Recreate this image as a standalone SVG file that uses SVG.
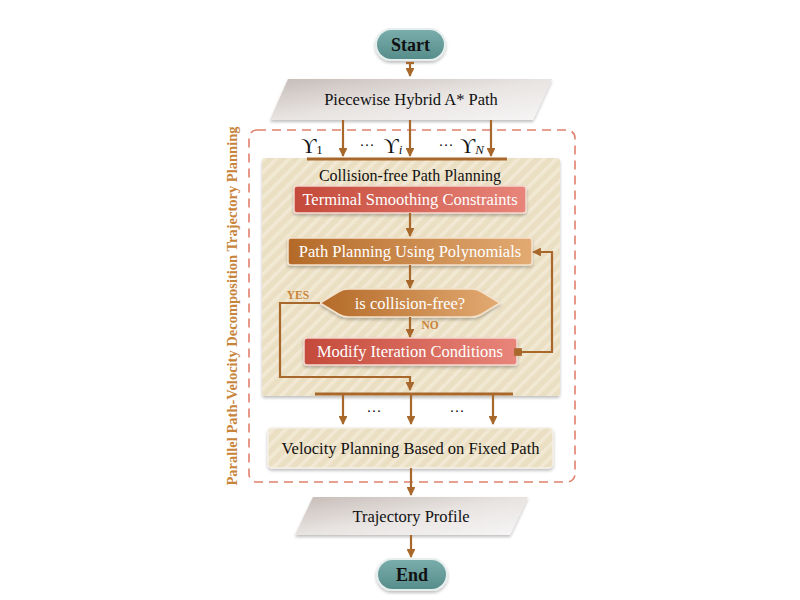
<svg xmlns="http://www.w3.org/2000/svg" width="800" height="600" viewBox="0 0 800 600">
<defs>
<style>
.t{font-family:"Liberation Serif","Times New Roman",serif;text-anchor:middle;dominant-baseline:central}
.w{fill:#ffffff}
.k{fill:#111111}
.ln{stroke:#a8682c;stroke-width:2.2;fill:none}
.bar{stroke:#a8682c;stroke-width:3.2;fill:none}
.lab{font-family:"Liberation Serif","Times New Roman",serif;font-weight:bold;fill:#c8843a}
</style>
<pattern id="stripes" width="9" height="9" patternUnits="userSpaceOnUse" patternTransform="rotate(-45)">
<rect width="9" height="9" fill="#ebdfc3"/>
<rect width="9" height="3.5" fill="#f2e9d5"/>
</pattern>
<linearGradient id="teal" x1="0" y1="0" x2="0" y2="1">
<stop offset="0" stop-color="#7aaeac"/><stop offset="1" stop-color="#558c8a"/>
</linearGradient>
<linearGradient id="gray" x1="0" y1="0" x2="1" y2="1">
<stop offset="0" stop-color="#c6bcb7"/><stop offset="0.5" stop-color="#e8e4e2"/><stop offset="1" stop-color="#f7f6f6"/>
</linearGradient>
<linearGradient id="red" x1="0" y1="0" x2="1" y2="0">
<stop offset="0" stop-color="#c44a3a"/><stop offset="1" stop-color="#e8857a"/>
</linearGradient>
<linearGradient id="brown" x1="0" y1="0" x2="1" y2="0">
<stop offset="0" stop-color="#b46a28"/><stop offset="1" stop-color="#e2aa72"/>
</linearGradient>
<filter id="sh" x="-10%" y="-20%" width="120%" height="150%">
<feDropShadow dx="0" dy="2" stdDeviation="1.8" flood-color="#000" flood-opacity="0.25"/>
</filter>
<marker id="ah" viewBox="0 0 10 10" refX="9" refY="5" markerWidth="4" markerHeight="4" orient="auto" markerUnits="strokeWidth">
<path d="M0,0 L10,5 L0,10 z" fill="#a8682c"/>
</marker>
<marker id="sq" viewBox="0 0 10 10" refX="5" refY="5" markerWidth="3.5" markerHeight="3.5" orient="auto" markerUnits="strokeWidth">
<rect width="10" height="10" fill="#a8682c"/>
</marker>
</defs>
<rect width="800" height="600" fill="#ffffff"/>

<g id="group-parallel">
<rect x="249" y="130" width="326" height="352" rx="8" fill="none" stroke="#e0806c" stroke-width="1.6" stroke-dasharray="9,6"/>
<text class="lab" font-size="14.5" transform="translate(232,306) rotate(-90)" text-anchor="middle" dominant-baseline="central">Parallel Path-Velocity Decomposition Trajectory Planning</text>
</g>

<g id="group-collision">
<rect x="262" y="158" width="298" height="238" rx="3" fill="url(#stripes)" filter="url(#sh)"/>
<text class="t k" x="410" y="175" font-size="16">Collision-free Path Planning</text>
</g>

<g id="start">
<rect x="376" y="29" width="69" height="31" rx="15.5" fill="url(#teal)" stroke="#e6eeee" stroke-width="2" filter="url(#sh)"/>
<text class="t k" x="410.5" y="44.5" font-size="18" font-weight="bold">Start</text>
</g>

<g id="hybrid">
<polygon points="288,79 552,79 533,120 270,120" fill="url(#gray)" filter="url(#sh)"/>
<text class="t k" x="411" y="99.5" font-size="16.5">Piecewise Hybrid A* Path</text>
</g>

<g id="terminal">
<rect x="294" y="186" width="232" height="27" rx="3" fill="url(#red)" stroke="#f3d8d0" stroke-width="1.5" filter="url(#sh)"/>
<text class="t w" x="410" y="199.5" font-size="16.5">Terminal Smoothing Constraints</text>
</g>

<g id="polynomials">
<rect x="288" y="238" width="244" height="27" rx="3" fill="url(#brown)" stroke="#f3e2cc" stroke-width="1.5" filter="url(#sh)"/>
<text class="t w" x="410" y="251.5" font-size="16.5">Path Planning Using Polynomials</text>
</g>

<g id="decision">
<path d="M320,303 L339,291.5 Q343,289 349,289 L471,289 Q477,289 481,291.5 L500,303 L481,314.5 Q477,317 471,317 L349,317 Q343,317 339,314.5 Z" fill="url(#brown)" stroke="#f3e2cc" stroke-width="1.5" filter="url(#sh)"/>
<text class="t w" x="410" y="303" font-size="16.5">is collision-free?</text>
</g>

<g id="modify">
<rect x="304" y="338" width="213" height="27" rx="3" fill="url(#red)" stroke="#f3d8d0" stroke-width="1.5" filter="url(#sh)"/>
<text class="t w" x="410" y="351.5" font-size="16.5">Modify Iteration Conditions</text>
</g>

<g id="velocity">
<rect x="268" y="428" width="285" height="40" rx="4" fill="url(#stripes)" stroke="#f4efe6" stroke-width="1.5" filter="url(#sh)"/>
<text class="t k" x="410.5" y="448" font-size="16.5">Velocity Planning Based on Fixed Path</text>
</g>

<g id="profile">
<polygon points="313,497 528,497 510,535 295,535" fill="url(#gray)" filter="url(#sh)"/>
<text class="t k" x="411" y="516" font-size="16.5">Trajectory Profile</text>
</g>

<g id="end">
<rect x="377" y="559" width="70" height="31" rx="15.5" fill="url(#teal)" stroke="#e6eeee" stroke-width="2" filter="url(#sh)"/>
<text class="t k" x="412" y="574.5" font-size="18" font-weight="bold">End</text>
</g>

<g id="connectors">
<line class="ln" x1="410" y1="63" x2="410" y2="76" marker-end="url(#ah)"/>
<line class="ln" x1="406" y1="63" x2="414" y2="63"/>
<line class="ln" x1="343" y1="120" x2="343" y2="156" marker-end="url(#ah)"/>
<line class="ln" x1="410" y1="120" x2="410" y2="156" marker-end="url(#ah)"/>
<line class="ln" x1="491" y1="120" x2="491" y2="156" marker-end="url(#ah)"/>
<line class="bar" x1="307" y1="159" x2="507" y2="159"/>
<line class="ln" x1="410" y1="213" x2="410" y2="236" marker-end="url(#ah)"/>
<line class="ln" x1="410" y1="265" x2="410" y2="288" marker-end="url(#ah)"/>
<line class="ln" x1="410" y1="317" x2="410" y2="337" marker-end="url(#ah)"/>
<polyline class="ln" points="320,303 280,303 280,377 410,377 410,390" marker-end="url(#ah)"/>
<polyline class="ln" points="518,352 552,352 552,252 533,252" marker-start="url(#sq)" marker-end="url(#ah)"/>
<line class="bar" x1="315" y1="394" x2="513" y2="394"/>
<line class="ln" x1="343" y1="395" x2="343" y2="424" marker-end="url(#ah)"/>
<line class="ln" x1="411" y1="395" x2="411" y2="424" marker-end="url(#ah)"/>
<line class="ln" x1="493" y1="395" x2="493" y2="424" marker-end="url(#ah)"/>
<line class="ln" x1="411" y1="468" x2="411" y2="495" marker-end="url(#ah)"/>
<line class="ln" x1="411" y1="535" x2="411" y2="557" marker-end="url(#ah)"/>
</g>

<g id="labels">
<text class="t k" x="312" y="146" font-size="21">ϒ<tspan font-size="13" dy="3">1</tspan></text>
<text class="t k" x="367" y="145" font-size="15">···</text>
<text class="t k" x="393" y="146" font-size="21">ϒ<tspan font-size="13" dy="3" font-style="italic">i</tspan></text>
<text class="t k" x="446" y="145" font-size="15">···</text>
<text class="t k" x="472" y="146" font-size="21">ϒ<tspan font-size="13" dy="3" font-style="italic">N</tspan></text>
<text class="lab" x="298" y="295" font-size="11.5" text-anchor="middle" dominant-baseline="central">YES</text>
<text class="lab" x="430" y="325" font-size="11.5" text-anchor="middle" dominant-baseline="central">NO</text>
<text class="t k" x="374" y="411" font-size="15">···</text>
<text class="t k" x="457" y="411" font-size="15">···</text>
</g>
</svg>
